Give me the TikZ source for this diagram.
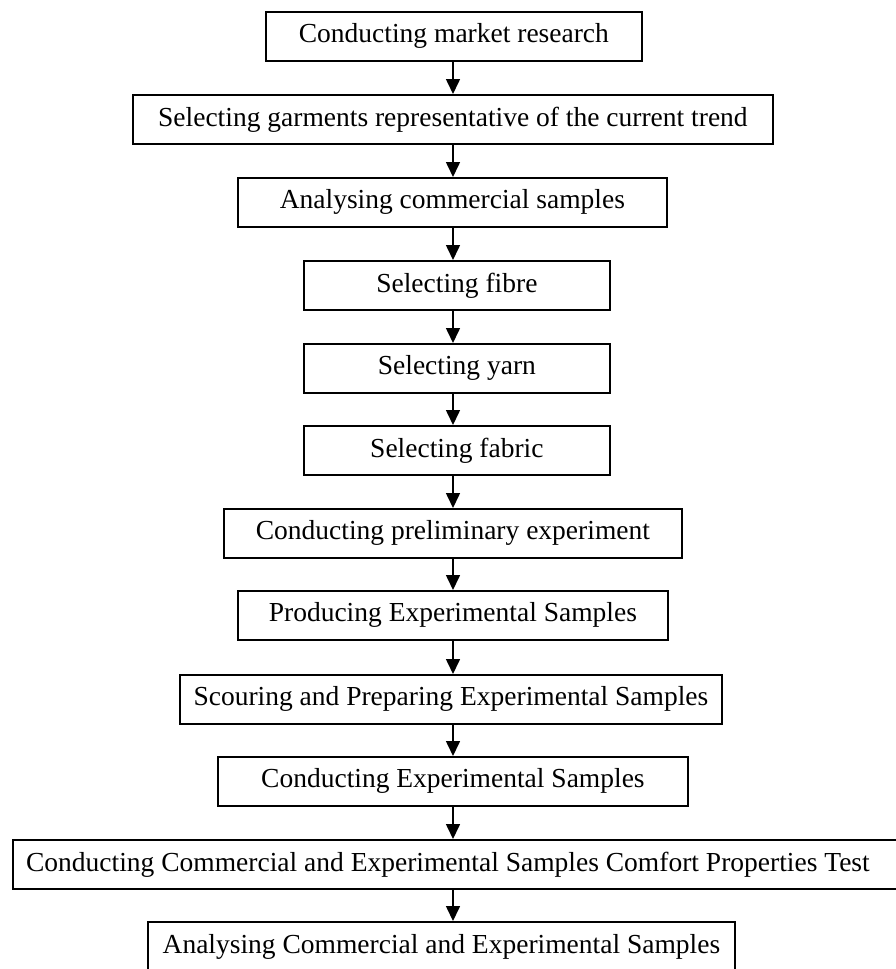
\documentclass[tikz,border=0pt]{standalone}
\usepackage{fontspec}
\setmainfont{Liberation Serif}
\usetikzlibrary{arrows.meta}
\begin{document}
\begin{tikzpicture}[x=1pt,y=-1pt,
  stepbox/.style={draw, line width=1.8pt, inner sep=0pt, anchor=north west,
    font=\fontsize{27.5}{32}\selectfont, minimum height=49pt},
  flow/.style={line width=1.6pt, -{Triangle[length=15pt,width=14pt]}}]
\clip (0,0) rectangle (896,969);
\fill[white] (0,0) rectangle (896,969);
\coordinate (ax) at (453,0);
\node[stepbox, minimum width=376pt] (b1) at (265,11) {Conducting market research};
\node[stepbox, minimum width=640pt] (b2) at (132,94) {Selecting garments representative of the current trend};
\node[stepbox, minimum width=429pt] (b3) at (237,177) {Analysing commercial samples};
\node[stepbox, minimum width=306pt] (b4) at (303,260) {Selecting fibre};
\node[stepbox, minimum width=306pt] (b5) at (303,343) {Selecting yarn};
\node[stepbox, minimum width=306pt] (b6) at (303,425) {Selecting fabric};
\node[stepbox, minimum width=458pt] (b7) at (223,508) {Conducting preliminary experiment};
\node[stepbox, minimum width=430pt] (b8) at (237,590) {Producing Experimental Samples};
\node[stepbox, minimum width=542pt] (b9) at (179,674) {Scouring and Preparing Experimental Samples};
\node[stepbox, minimum width=470pt] (b10) at (217,756) {Conducting Experimental Samples};
\node[stepbox, minimum width=893pt] (b11) at (12,839) {Conducting Commercial and Experimental Samples Comfort Properties Test\hspace*{23pt}};
\node[stepbox, minimum width=587pt, minimum height=49.5pt] (b12) at (147,921) {Analysing Commercial and Experimental Samples};
\foreach \a/\b in {b1/b2,b2/b3,b3/b4,b4/b5,b5/b6,b6/b7,b7/b8,b8/b9,b9/b10,b10/b11,b11/b12}
  \draw[flow] (\a.south -| ax) -- (\b.north -| ax);
\end{tikzpicture}
\end{document}
